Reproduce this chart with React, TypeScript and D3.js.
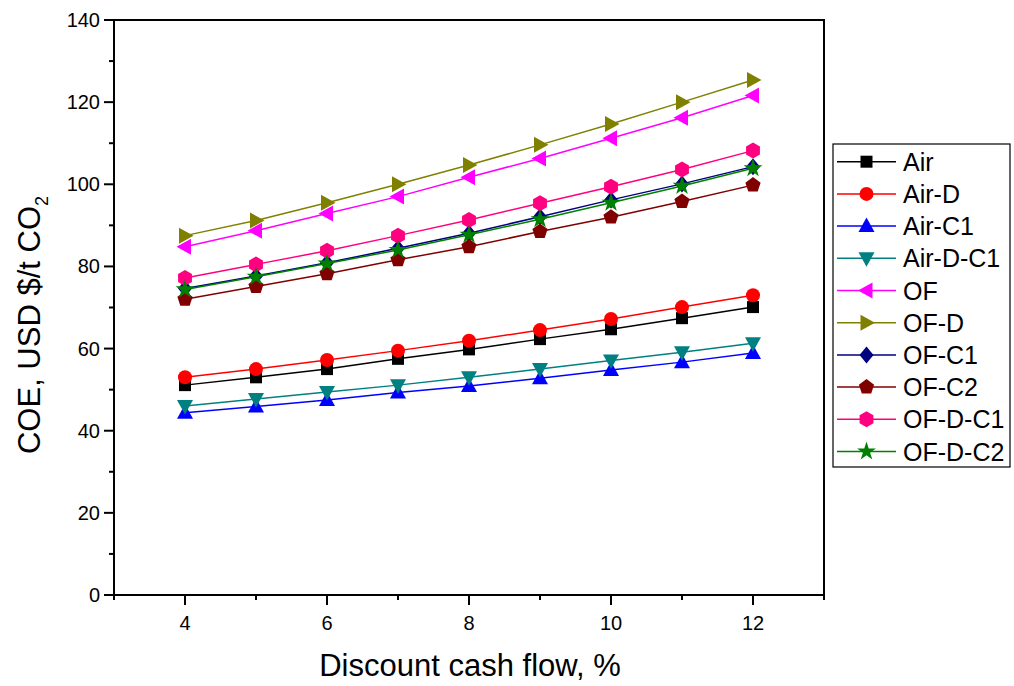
import React from "react";
import * as d3 from "d3";

const xValues = [4, 5, 6, 7, 8, 9, 10, 11, 12];
const air = [51.1, 53.0, 55.0, 57.5, 59.8, 62.3, 64.7, 67.4, 70.1];
const airD = [53.0, 55.0, 57.2, 59.5, 61.9, 64.5, 67.2, 70.1, 73.0];
const airC1 = [44.4, 45.9, 47.5, 49.3, 50.9, 52.8, 54.8, 56.7, 58.9];
const airDC1 = [46.0, 47.7, 49.4, 51.1, 53.0, 55.0, 57.1, 59.1, 61.3];
const of = [84.8, 88.7, 92.9, 97.0, 101.7, 106.3, 111.2, 116.2, 121.6];
const ofD = [87.5, 91.2, 95.5, 100.0, 104.7, 109.6, 114.7, 120.0, 125.4];
const ofC1 = [74.6, 77.7, 80.9, 84.4, 88.1, 92.1, 96.2, 100.1, 104.3];
const ofC2 = [72.0, 75.1, 78.2, 81.6, 84.8, 88.5, 92.0, 95.8, 99.8];
const ofDC1 = [77.2, 80.5, 83.8, 87.5, 91.3, 95.4, 99.4, 103.6, 108.2];
const ofDC2 = [74.4, 77.5, 80.7, 84.0, 87.7, 91.5, 95.5, 99.6, 103.9];

const seriesNames = ["Air", "Air-D", "Air-C1", "Air-D-C1", "OF", "OF-D", "OF-C1", "OF-C2", "OF-D-C1", "OF-D-C2"];
const seriesValues = [air, airD, airC1, airDC1, of, ofD, ofC1, ofC2, ofDC1, ofDC2];
const seriesColors = ["#000000", "#FF0000", "#0000FF", "#008080", "#FF00FF", "#808000", "#000080", "#800000", "#FF0080", "#008000"];
const seriesMarkers = ["square", "circle", "up", "down", "left", "right", "diamond", "pentagon", "hexagon", "star"];

const xTickLabels = [4, 6, 8, 10, 12];
const yTickLabels = [0, 20, 40, 60, 80, 100, 120, 140];

const FONT = "Arial, 'Liberation Sans', sans-serif";

function poly(pts: number[][]) {
  return "M" + pts.map((p) => p[0].toFixed(2) + "," + p[1].toFixed(2)).join("L") + "Z";
}
function regular(n: number, r: number, rot: number) {
  const pts: number[][] = [];
  for (let i = 0; i < n; i++) {
    const a = rot + (i * 2 * Math.PI) / n;
    pts.push([r * Math.sin(a), -r * Math.cos(a)]);
  }
  return poly(pts);
}
function markerPath(kind: string): string {
  switch (kind) {
    case "square":
      return poly([[-6, -6], [6, -6], [6, 6], [-6, 6]]);
    case "circle":
      return d3.symbol().type(d3.symbolCircle).size(Math.PI * 7 * 7)() as string;
    case "up":
      return poly([[0, -8.5], [8, 6], [-8, 6]]);
    case "down":
      return poly([[0, 8.5], [8, -6], [-8, -6]]);
    case "left":
      return poly([[-8.5, 0], [6, -8], [6, 8]]);
    case "right":
      return poly([[8.5, 0], [-6, -8], [-6, 8]]);
    case "diamond":
      return poly([[0, -8.5], [7, 0], [0, 8.5], [-7, 0]]);
    case "pentagon":
      return regular(5, 8, 0);
    case "hexagon":
      return regular(6, 8, 0);
    case "star":
      return d3.symbol().type(d3.symbolStar).size(110)() as string;
  }
  return "";
}

export default function App() {
  const W = 1014;
  const H = 686;
  const left = 114;
  const right = 824;
  const top = 20;
  const bottom = 595;
  const x = d3.scaleLinear().domain([3, 13]).range([left, right]);
  const y = d3.scaleLinear().domain([0, 140]).range([bottom, top]);
  const line = d3
    .line<number>()
    .x((_, i) => x(xValues[i]))
    .y((d) => y(d));

  const xMinor = d3.range(3, 13.01, 1);
  const yMinor = d3.range(0, 140.01, 10);

  const legX = 833;
  const legY = 144;
  const legW = 177;
  const legH = 323;
  const legStep = 32.2;
  const legFirst = 161.7;

  return (
    <svg width={W} height={H} style={{ position: "absolute", left: 0, top: 0, background: "#fff" }} fontFamily={FONT}>
      <rect x={0} y={0} width={W} height={H} fill="#fff" />
      {/* series */}
      {seriesValues.map((vals, si) => (
        <g key={seriesNames[si]}>
          <path d={line(vals) as string} fill="none" stroke={seriesColors[si]} strokeWidth={1.5} />
          {vals.map((v, i) => (
            <path
              key={i}
              d={markerPath(seriesMarkers[si])}
              transform={`translate(${x(xValues[i])},${y(v)})`}
              fill={seriesColors[si]}
            />
          ))}
        </g>
      ))}
      {/* frame */}
      <rect x={left} y={top} width={right - left} height={bottom - top} fill="none" stroke="#000" strokeWidth={2} />
      {/* x ticks */}
      {xMinor.map((t) => (
        <line key={"xm" + t} x1={x(t)} x2={x(t)} y1={bottom} y2={bottom + (t % 2 === 0 ? 10 : 5)} stroke="#000" strokeWidth={2} />
      ))}
      {xTickLabels.map((t) => (
        <text key={"xl" + t} x={x(t)} y={bottom + 35} fontSize={20} textAnchor="middle" fill="#000">
          {t}
        </text>
      ))}
      {/* y ticks */}
      {yMinor.map((t) => (
        <line key={"ym" + t} x1={left} x2={left - (t % 20 === 0 ? 10 : 5)} y1={y(t)} y2={y(t)} stroke="#000" strokeWidth={2} />
      ))}
      {yTickLabels.map((t) => (
        <text key={"yl" + t} x={left - 14} y={y(t) + 7} fontSize={20} textAnchor="end" fill="#000">
          {t}
        </text>
      ))}
      {/* axis titles */}
      <text x={(left + right) / 2 + 1} y={676} fontSize={31} textAnchor="middle" fill="#000">
        Discount cash flow, %
      </text>
      <text transform={`translate(40,325) rotate(-90)`} fontSize={31} textAnchor="middle" fill="#000">
        COE, USD $/t CO<tspan fontSize={18} dy={8}>2</tspan>
      </text>
      {/* legend */}
      <rect x={legX} y={legY} width={legW} height={legH} fill="#fff" stroke="#000" strokeWidth={1.2} />
      {seriesNames.map((name, i) => {
        const cy = legFirst + i * legStep;
        return (
          <g key={"leg" + name}>
            <line x1={837} x2={896} y1={cy} y2={cy} stroke={seriesColors[i]} strokeWidth={1.5} />
            <path d={markerPath(seriesMarkers[i])} transform={`translate(866.5,${cy})`} fill={seriesColors[i]} />
            <text x={903} y={cy + 9} fontSize={25} fill="#000">
              {name}
            </text>
          </g>
        );
      })}
    </svg>
  );
}
